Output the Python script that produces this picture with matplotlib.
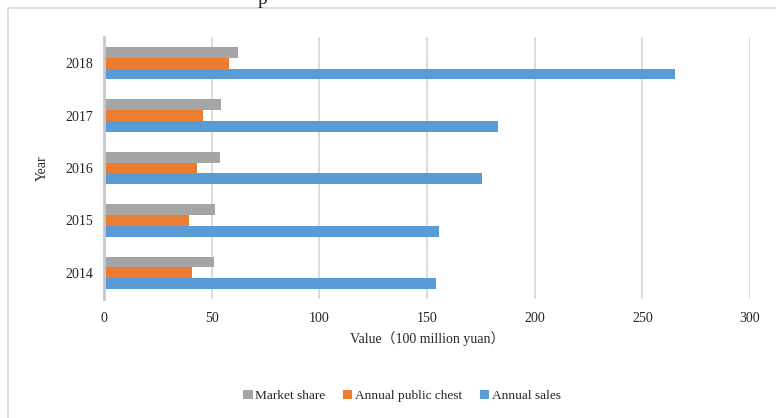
import numpy as np
import matplotlib.pyplot as plt
from matplotlib.patches import Rectangle

years = ["2014", "2015", "2016", "2017", "2018"]
market_share = [50.9, 51.7, 53.7, 54.3, 62.0]
public_chest = [40.9, 39.4, 43.3, 46.1, 57.9]
annual_sales = [154.2, 155.6, 175.6, 183.0, 265.2]
x_ticks = [0, 50, 100, 150, 200, 250, 300]

serif = ['Liberation Serif', 'Noto Sans CJK SC']
plt.rcParams['font.family'] = serif

fig = plt.figure(figsize=(7.76, 4.18), dpi=100)
ax = fig.add_axes([104 / 776, 1 - 299 / 418, 646 / 776, 262 / 418])

y = np.arange(len(years))
h = 0.205
ax.barh(y + h, market_share, height=h, color='#A5A5A5', label='Market share', zorder=3)
ax.barh(y, public_chest, height=h, color='#ED7D31', label='Annual public chest', zorder=3)
ax.barh(y - h, annual_sales, height=h, color='#5B9BD5', label='Annual sales', zorder=3)

ax.set_xlim(0, 300)
ax.set_ylim(-0.5, len(years) - 0.5)
ax.set_xticks(x_ticks)
ax.set_yticks(y)
ax.set_yticklabels(years)
ax.tick_params(length=0, labelsize=10, colors='#262626')
ax.tick_params(axis='x', pad=9)
ax.tick_params(axis='y', pad=8)
ax.grid(axis='x', color='#d9d9d9', linewidth=1.3, zorder=0)
for s in ['top', 'right', 'bottom']:
    ax.spines[s].set_visible(False)
ax.spines['left'].set_color('#c8c8c8')
ax.spines['left'].set_linewidth(2)
ax.spines['left'].set_zorder(4)

ax.set_xlabel('Value（100 million yuan）', fontsize=10, color='#262626', labelpad=5)
ax.set_ylabel('Year', fontsize=10, color='#262626', labelpad=12)

handles, labels = ax.get_legend_handles_labels()
fig.legend(handles, labels, loc='center', bbox_to_anchor=(402 / 776, 1 - 396 / 418),
           ncol=3, frameon=False, fontsize=9.6, handlelength=0.7, handleheight=0.7,
           handletextpad=0.2, columnspacing=1.3, labelcolor='#262626')

# outer chart border (only left and top visible)
fig.patches.append(Rectangle((8 / 776, -0.1), 1.2, 1 - 8 / 418 + 0.1,
                             transform=fig.transFigure, fill=False,
                             edgecolor='#d9d9d9', linewidth=1.2))
# title text cut off at the very top, as in the source image
fig.text(263 / 776, 1.0, 'p', fontsize=14, ha='center', va='center', color='#262626')

fig.savefig('out.png', dpi=100)
